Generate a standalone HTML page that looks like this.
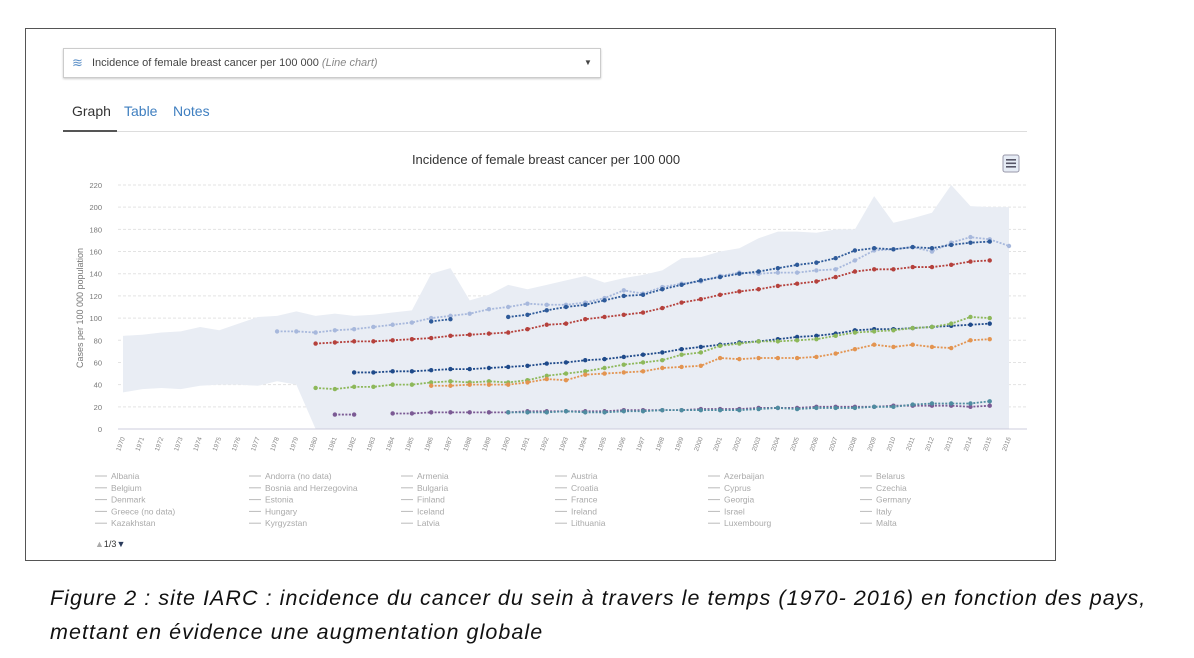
<!DOCTYPE html>
<html><head><meta charset="utf-8"><style>
html,body{margin:0;padding:0;background:#fff;width:1194px;height:658px;overflow:hidden;font-family:"Liberation Sans",sans-serif}
#frame{position:absolute;left:25px;top:28px;width:1031px;height:533px;border:1.5px solid #555;box-sizing:border-box}
#dd{position:absolute;left:63px;top:48px;width:536px;height:28px;border:1px solid #ccc;box-shadow:0 1px 2px #ccc;font-size:11px;color:#444;line-height:28px}
.tab{position:absolute;top:103px;font-size:14px}
#caption{position:absolute;left:50px;top:581px;font-size:21.5px;letter-spacing:1.05px;font-style:italic;color:#111;line-height:34px;white-space:nowrap}
</style></head><body>
<div id="frame"></div>
<div id="dd"><span style="position:absolute;left:8px;color:#5b8fc7;font-size:13px">≋</span><span style="position:absolute;left:28px">Incidence of female breast cancer per 100 000 <i style="color:#888">(Line chart)</i></span><span style="position:absolute;left:520px;font-size:8px;color:#444">▼</span></div>
<div class="tab" style="left:72px;color:#333">Graph</div>
<div class="tab" style="left:124px;color:#3f7fc0">Table</div>
<div class="tab" style="left:173px;color:#3f7fc0">Notes</div>
<div style="position:absolute;left:63px;top:131px;width:964px;height:1px;background:#ddd"></div>
<div style="position:absolute;left:63px;top:130px;width:54px;height:2px;background:#555"></div>
<svg id="chart" width="1194" height="658" style="position:absolute;left:0;top:0"></svg>
<div id="caption">Figure 2 : site IARC : incidence du cancer du sein à travers le temps (1970- 2016) en fonction des pays,<br>mettant en évidence une augmentation globale</div>
<script>
const years=[];for(let y=1970;y<=2016;y++)years.push(y);
const yTicks=[0,20,40,60,80,100,120,140,160,180,200,220];
const bandUpper=[84,85,87,88,92,89,95,101,102,106,102,104,102,103,105,107,140,145,116,121,130,126,130,134,138,132,136,139,143,154,155,160,163,172,178,178,177,180,180,210,186,190,195,220,201,200,200];
const bandLower=[33,36,37,36,39,40,40,39,43,40,0,0,0,0,0,0,0,0,0,0,0,0,0,0,0,0,0,0,0,0,0,0,0,0,0,0,0,0,0,0,0,0,0,0,0,0,0];
const seriesColors=["#a7b8dc","#2e5a99","#b5413c","#1f4a8a","#8db85a","#e39450","#7b5a94","#4f8ca0"];
const sLightBlue={1978:88,1979:88,1980:87,1981:89,1982:90,1983:92,1984:94,1985:96,1986:100,1987:102,1988:104,1989:108,1990:110,1991:113,1992:112,1993:112,1994:114,1995:118,1996:125,1997:122,1998:128,1999:131,2000:133,2001:138,2002:141,2003:140,2004:141,2005:141,2006:143,2007:144,2008:152,2009:161,2010:162,2011:164,2012:160,2013:168,2014:173,2015:171,2016:165};
const sBlue={1986:97,1987:99,1990:101,1991:103,1992:107,1993:110,1994:112,1995:116,1996:120,1997:121,1998:126,1999:130,2000:134,2001:137,2002:140,2003:142,2004:145,2005:148,2006:150,2007:154,2008:161,2009:163,2010:162,2011:164,2012:163,2013:166,2014:168,2015:169};
const sRed={1980:77,1981:78,1982:79,1983:79,1984:80,1985:81,1986:82,1987:84,1988:85,1989:86,1990:87,1991:90,1992:94,1993:95,1994:99,1995:101,1996:103,1997:105,1998:109,1999:114,2000:117,2001:121,2002:124,2003:126,2004:129,2005:131,2006:133,2007:137,2008:142,2009:144,2010:144,2011:146,2012:146,2013:148,2014:151,2015:152};
const sNavy={1982:51,1983:51,1984:52,1985:52,1986:53,1987:54,1988:54,1989:55,1990:56,1991:57,1992:59,1993:60,1994:62,1995:63,1996:65,1997:67,1998:69,1999:72,2000:74,2001:76,2002:78,2003:79,2004:81,2005:83,2006:84,2007:86,2008:89,2009:90,2010:90,2011:91,2012:92,2013:93,2014:94,2015:95};
const sGreen={1980:37,1981:36,1982:38,1983:38,1984:40,1985:40,1986:42,1987:43,1988:42,1989:43,1990:42,1991:44,1992:48,1993:50,1994:52,1995:55,1996:58,1997:60,1998:62,1999:67,2000:69,2001:75,2002:77,2003:79,2004:79,2005:80,2006:81,2007:84,2008:87,2009:88,2010:89,2011:91,2012:92,2013:95,2014:101,2015:100};
const sOrange={1986:39,1987:39,1988:40,1989:40,1990:40,1991:42,1992:45,1993:44,1994:49,1995:50,1996:51,1997:52,1998:55,1999:56,2000:57,2001:64,2002:63,2003:64,2004:64,2005:64,2006:65,2007:68,2008:72,2009:76,2010:74,2011:76,2012:74,2013:73,2014:80,2015:81};
const sPurple={1981:13,1982:13,1984:14,1985:14,1986:15,1987:15,1988:15,1989:15,1990:15,1991:16,1992:16,1993:16,1994:16,1995:16,1996:17,1997:17,1998:17,1999:17,2000:18,2001:18,2002:18,2003:19,2004:19,2005:19,2006:20,2007:20,2008:20,2009:20,2010:21,2011:21,2012:21,2013:21,2014:20,2015:21};
const sTeal={1990:15,1991:15,1992:15,1993:16,1994:15,1995:15,1996:16,1997:16,1998:17,1999:17,2000:17,2001:17,2002:17,2003:18,2004:19,2005:18,2006:19,2007:19,2008:19,2009:20,2010:20,2011:22,2012:23,2013:23,2014:23,2015:25};
const allSeries=[sLightBlue,sBlue,sRed,sNavy,sGreen,sOrange,sPurple,sTeal];
const legendNames=["Albania","Andorra (no data)","Armenia","Austria","Azerbaijan","Belarus","Belgium","Bosnia and Herzegovina","Bulgaria","Croatia","Cyprus","Czechia","Denmark","Estonia","Finland","France","Georgia","Germany","Greece (no data)","Hungary","Iceland","Ireland","Israel","Italy","Kazakhstan","Kyrgyzstan","Latvia","Lithuania","Luxembourg","Malta"];

const NS="http://www.w3.org/2000/svg";
const svg=document.getElementById('chart');
function mk(tag,attrs,parent){const e=document.createElementNS(NS,tag);for(const k in attrs)e.setAttribute(k,attrs[k]);(parent||svg).appendChild(e);return e;}
const x0=123,x1=1009,yTop=185,yBot=429;
function xs(y){return x0+(y-1970)*(x1-x0)/(2016-1970);}
function ys(v){return yBot-v*(yBot-yTop)/220;}

let t=mk('text',{x:546,y:164,'text-anchor':'middle','font-size':13,fill:'#333'});


t.textContent='Incidence of female breast cancer per 100 000';

let mb=mk('rect',{x:1003,y:155,width:16,height:17,rx:2,fill:'#e6ecf5',stroke:'#99a',['stroke-width']:1});


for(let i=0;i<3;i++)mk('rect',{x:1006,y:159+i*3.5,width:10,height:1.6,fill:'#556'});

yTicks.forEach(v=>{
  const g=mk('line',{x1:x0-5,x2:x1+18,y1:ys(v),y2:ys(v),stroke:'#e3e3e3','stroke-dasharray':'3,2'});
  
  
  const l=mk('text',{x:102,y:ys(v)+3,'text-anchor':'end','font-size':7.5,fill:'#777'});
  
  
  l.textContent=v;
});
let yt=mk('text',{transform:'translate(83,308) rotate(-90)','text-anchor':'middle','font-size':9,fill:'#777'});


yt.textContent='Cases per 100 000 population';

let d='M'+years.map((y,i)=>xs(y)+','+ys(bandUpper[i])).join('L');
for(let i=years.length-1;i>=0;i--)d+='L'+xs(years[i])+','+ys(bandLower[i]);
let band=mk('path',{d:d+'Z',fill:'#e9edf4'});



mk('line',{x1:x0-5,x2:x1+18,y1:yBot,y2:yBot,stroke:'#ccd'});
years.forEach(y=>{
  const l=mk('text',{transform:`translate(${xs(y)+2},${438}) rotate(-70)`,'text-anchor':'end','font-size':6.5,fill:'#888'});
  
  
  l.textContent=y;
});

allSeries.forEach((s,si)=>{
  const ks=Object.keys(s).map(Number).sort((a,b)=>a-b);
  let segs=[],cur=[];
  ks.forEach((k,i)=>{if(i>0&&k-ks[i-1]>1){segs.push(cur);cur=[];}cur.push(k);});
  segs.push(cur);
  segs.forEach(seg=>{
    const p=mk('polyline',{points:seg.map(k=>xs(k)+','+ys(s[k])).join(' '),fill:'none',stroke:seriesColors[si],'stroke-width':1.8,'stroke-dasharray':'2,1.5'});
    
    
  });
  ks.forEach(k=>{
    const c=mk('circle',{cx:xs(k),cy:ys(s[k]),r:2.2,fill:seriesColors[si]});
    
    
  });
});

const colX=[95,249,401,555,708,860];
legendNames.forEach((n,i)=>{
  const cx=colX[i%6],cy=479+Math.floor(i/6)*11.8;
  mk('line',{x1:cx,x2:cx+12,y1:cy-3,y2:cy-3,stroke:'#bbb'});
  const tx=mk('text',{x:cx+16,y:cy,'font-size':8.5,fill:'#aaa'});
  
  
  tx.textContent=n;
});
let pg=mk('text',{x:95,y:547,'font-size':9,fill:'#333'});


pg.innerHTML='<tspan fill="#aaa">▲</tspan>1/3<tspan fill="#2b3b5c">▼</tspan>';
</script>
</body></html>
